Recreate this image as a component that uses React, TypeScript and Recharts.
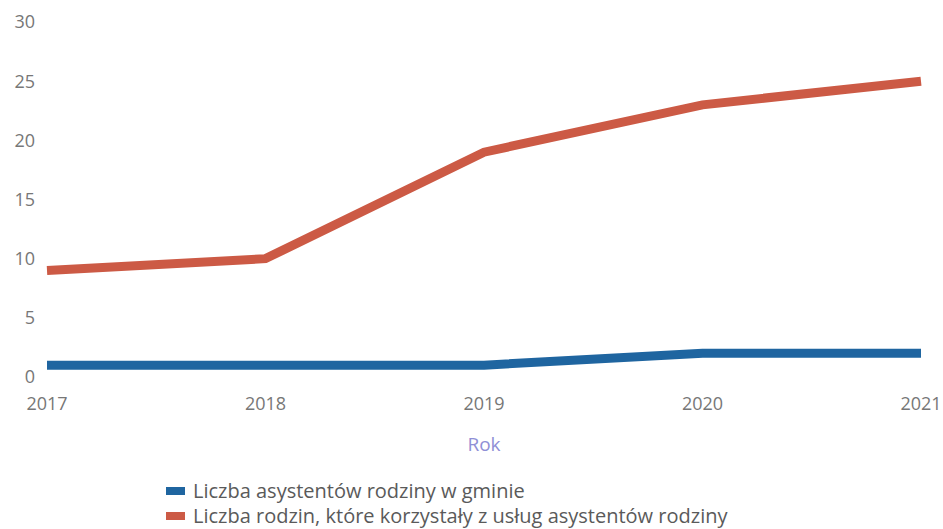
import { LineChart, Line, XAxis, YAxis, Legend } from 'recharts';

const years = ['2017', '2018', '2019', '2020', '2021'];
const assistants = [1, 1, 1, 2, 2];
const families = [9, 10, 19, 23, 25];
const yTicks = [0, 5, 10, 15, 20, 25, 30];

const seriesNames = {
  assistants: 'Liczba asystentów rodziny w gminie',
  families: 'Liczba rodzin, które korzystały z usług asystentów rodziny',
};

const data = years.map((year, i) => ({
  year,
  assistants: assistants[i],
  families: families[i],
}));

const FONT = '"Open Sans", "Noto Sans", sans-serif';

function LegendBox(props: any) {
  const { payload = [] } = props;
  return (
    <div style={{ fontFamily: FONT, fontSize: 20, color: '#5a5a5a', lineHeight: '25px' }}>
      {payload.map((item: any) => (
        <div key={item.value} style={{ display: 'flex', alignItems: 'center' }}>
          <span
            style={{
              display: 'inline-block',
              width: 19,
              height: 8,
              background: item.color,
              marginRight: 8,
            }}
          />
          {item.value}
        </div>
      ))}
    </div>
  );
}

export default function App() {
  return (
    <div>
      <style>{'body{margin:0}'}</style>
      <LineChart
        width={943}
        height={529}
        data={data}
        margin={{ top: 22, right: 22, bottom: 122, left: 0 }}
      >
        <XAxis
          dataKey="year"
          axisLine={false}
          tickLine={false}
          tickMargin={14}
          height={30}
          tick={{ fill: '#777', fontSize: 18, fontFamily: FONT }}
          label={{
            value: 'Rok',
            position: 'bottom',
            offset: 31,
            fill: '#8f8fd6',
            fontSize: 19,
            fontFamily: FONT,
          }}
        />
        <YAxis
          domain={[0, 30]}
          ticks={yTicks}
          axisLine={false}
          tickLine={false}
          width={47}
          tickMargin={6}
          tick={{ fill: '#777', fontSize: 18, fontFamily: FONT }}
        />
        <Legend
          layout="vertical"
          verticalAlign="middle"
          align="center"
          content={<LegendBox />}
          wrapperStyle={{ position: 'absolute', left: 166, top: 478, width: 760 }}
        />
        <Line
          dataKey="assistants"
          name={seriesNames.assistants}
          type="linear"
          stroke="#1f65a0"
          strokeWidth={9}
          dot={false}
          activeDot={false}
          isAnimationActive={false}
        />
        <Line
          dataKey="families"
          name={seriesNames.families}
          type="linear"
          stroke="#cc5a45"
          strokeWidth={9}
          dot={false}
          activeDot={false}
          isAnimationActive={false}
        />
      </LineChart>
    </div>
  );
}
